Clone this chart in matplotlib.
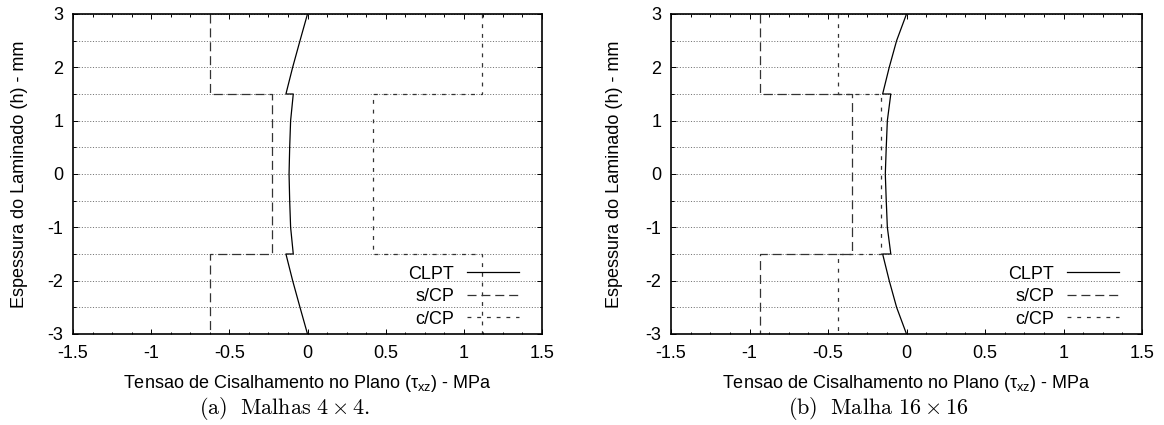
import numpy as np
import matplotlib

matplotlib.use('Agg')
import matplotlib.pyplot as plt
from matplotlib.ticker import MultipleLocator, FormatStrFormatter

plt.rcParams['font.family'] = ['Liberation Sans', 'DejaVu Sans']
plt.rcParams['font.size'] = 13
plt.rcParams['mathtext.fontset'] = 'custom'
plt.rcParams['mathtext.rm'] = 'Liberation Sans'
plt.rcParams['mathtext.it'] = 'Liberation Sans:italic'
plt.rcParams['axes.unicode_minus'] = False
plt.rcParams['lines.scale_dashes'] = False

# espessura das laminas (fronteiras de cima para baixo) - mm
layer_edges = [3.0, 1.5, -1.5, -3.0]

# CLPT: pontos lidos ao longo da espessura, com salto nas interfaces
clpt_z = [3.0, 2.5, 2.0, 1.5, 1.5, 1.0, 0.5, 0.0, -0.5, -1.0, -1.5, -1.5, -2.0, -2.5, -3.0]
clpt_a = [0.0, -0.048, -0.095, -0.138, -0.091, -0.108, -0.114, -0.118, -0.114, -0.108,
          -0.091, -0.138, -0.095, -0.048, 0.0]
clpt_b = [0.0, -0.063, -0.110, -0.152, -0.100, -0.122, -0.129, -0.135, -0.129, -0.122,
          -0.100, -0.152, -0.110, -0.063, 0.0]

# tensao constante por lamina (externa, central, externa)
scp_a = [-0.624, -0.225, -0.624]
ccp_a = [1.114, 0.417, 1.114]
scp_b = [-0.933, -0.349, -0.933]
ccp_b = [-0.438, -0.164, -0.438]

x_ticks = [-1.5, -1.0, -0.5, 0.0, 0.5, 1.0, 1.5]
y_ticks = [-3, -2, -1, 0, 1, 2, 3]

XLABEL = 'Tensao de Cisalhamento no Plano (τ$_{\\mathrm{xz}}$) - MPa'
YLABEL = 'Espessura do Laminado (h) - mm'


def step_profile(values):
    # contorno em degraus: cada lamina tem valor constante entre suas fronteiras
    xs = np.repeat(values, 2)
    ys = []
    for top, bot in zip(layer_edges[:-1], layer_edges[1:]):
        ys += [top, bot]
    return xs, np.array(ys)


def draw_panel(ax, clpt, scp, ccp):
    ax.plot(clpt, clpt_z, color='black', lw=0.9, label='CLPT')
    xs, ys = step_profile(scp)
    ax.plot(xs, ys, color='#333333', lw=0.9, dashes=(6.5, 3.5), label='s/CP')
    xs, ys = step_profile(ccp)
    ax.plot(xs, ys, color='#333333', lw=0.9, dashes=(2.8, 4.2), label='c/CP')

    ax.set_xlim(-1.5, 1.5)
    ax.set_ylim(-3, 3)
    ax.set_xticks(x_ticks)
    ax.set_yticks(y_ticks)
    ax.xaxis.set_major_formatter(FormatStrFormatter('%g'))
    ax.yaxis.set_major_formatter(FormatStrFormatter('%g'))
    ax.xaxis.set_minor_locator(MultipleLocator(0.125))
    ax.yaxis.set_minor_locator(MultipleLocator(0.5))
    ax.tick_params(which='both', direction='in', top=True, right=True, width=0.7)
    ax.tick_params(which='major', length=3.5)
    ax.tick_params(which='minor', length=1.8)
    ax.tick_params(axis='x', pad=8)
    ax.tick_params(axis='y', pad=7)
    ax.grid(axis='y', which='both', color='#777777', lw=0.7, linestyle=(0, (0.8, 1.2)))
    for sp in ax.spines.values():
        sp.set_linewidth(1.2)

    ax.set_xlabel(XLABEL, va='baseline')
    ax.xaxis.set_label_coords(0.5, -0.170)
    ax.set_ylabel(YLABEL, va='center')

    leg = ax.legend(loc='lower right', bbox_to_anchor=(0.951, 0.02), frameon=False,
                    markerfirst=False, handlelength=2.9, handletextpad=0.7,
                    labelspacing=0.3, borderpad=0, borderaxespad=0, fontsize=13)
    return leg


fig = plt.figure(figsize=(11.64, 4.25), dpi=100)
ax_a = fig.add_axes([73 / 1164, 91 / 425, 469 / 1164, 320 / 425])
ax_b = fig.add_axes([671 / 1164, 91 / 425, 471 / 1164, 320 / 425])

draw_panel(ax_a, clpt_a, scp_a, ccp_a)
draw_panel(ax_b, clpt_b, scp_b, ccp_b)
ax_a.yaxis.set_label_coords(-0.115, 0.5)
ax_b.yaxis.set_label_coords(-0.121, 0.5)

fig.text(285 / 1164, 11 / 425, r'$\mathrm{(a)\ \ Malhas\ }4\times 4.$', math_fontfamily='cm',
         ha='center', va='baseline', fontsize=16)
fig.text(878 / 1164, 11 / 425, r'$\mathrm{(b)\ \ Malha\ }16\times 16$', math_fontfamily='cm',
         ha='center', va='baseline', fontsize=16)

fig.savefig('out.png', dpi=100)
plt.close(fig)
